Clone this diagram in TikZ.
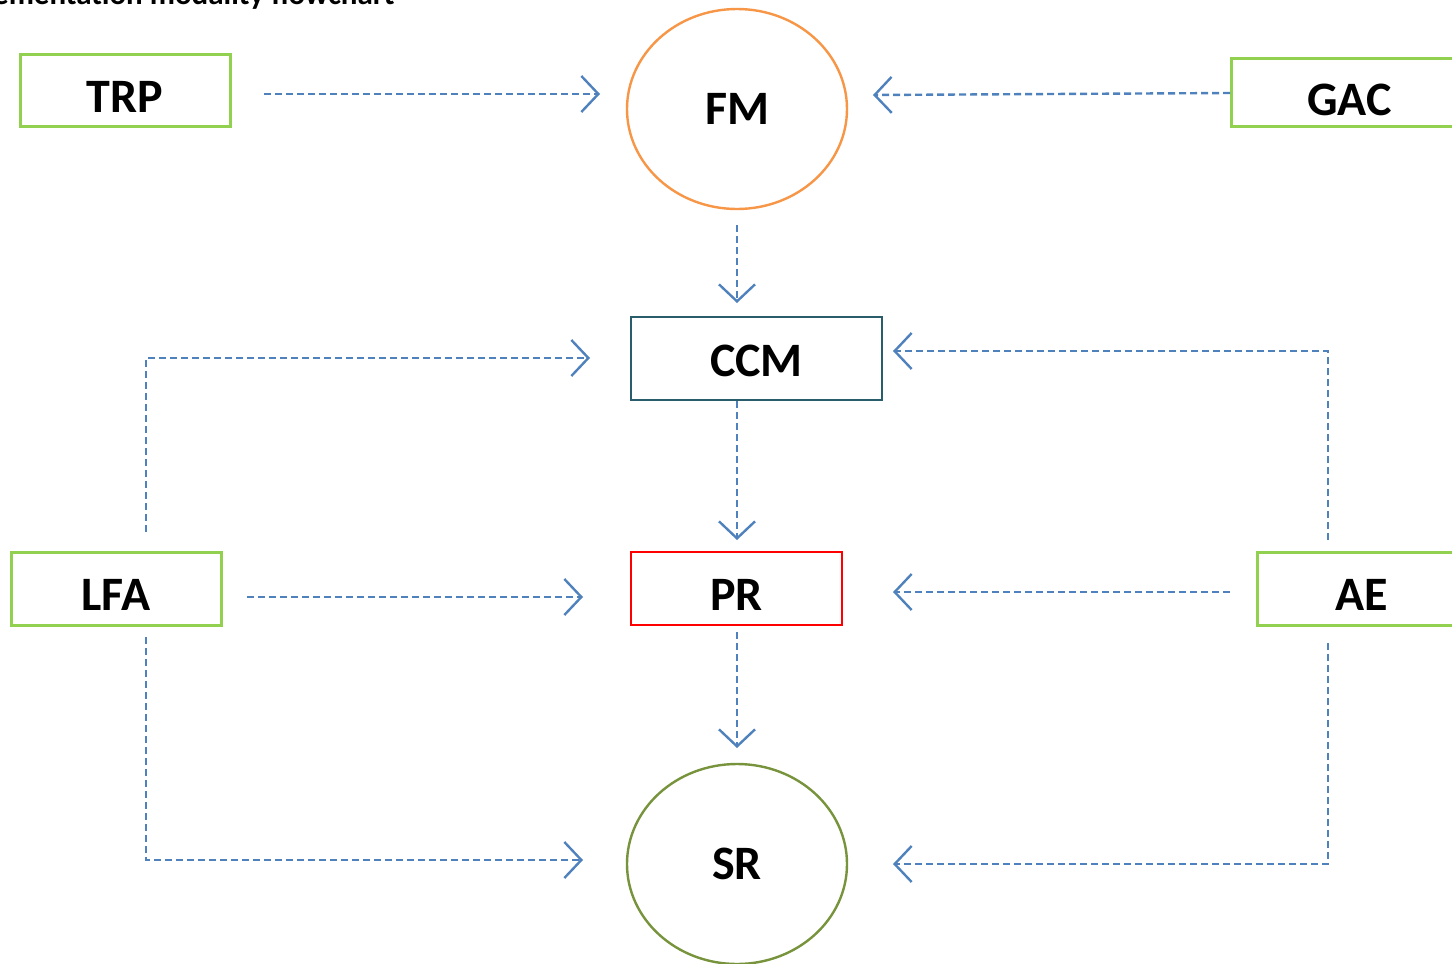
\documentclass[tikz,border=0pt]{standalone}
\usepackage{fontspec}
\setmainfont{Carlito}
\usetikzlibrary{arrows.meta,shapes.geometric}
\definecolor{bxgreen}{HTML}{92D050}
\definecolor{fmorange}{HTML}{F79646}
\definecolor{ccmteal}{HTML}{2A5D6C}
\definecolor{srolive}{HTML}{77933C}
\definecolor{arrblue}{HTML}{4F81BD}
\tikzset{
  lbl/.style={font=\fontsize{24}{29}\selectfont\bfseries, text=black},
  low/.style={text height=#1, text depth=0pt},
  gbox/.style={lbl, draw=bxgreen, line width=1.5pt, fill=white, rectangle, inner sep=0pt},
  cbox/.style={lbl, draw=ccmteal, line width=1.1pt, fill=white, rectangle, inner sep=0pt},
  rbox/.style={lbl, draw=red, line width=1.1pt, fill=white, rectangle, inner sep=0pt},
  ell/.style={lbl, ellipse, line width=1.2pt, fill=white, inner sep=0pt, minimum width=110pt, minimum height=100pt},
  conn/.style={draw=arrblue, line width=1.2pt, dash pattern=on 3.5pt off 2pt, -{Straight Barb[length=8.5pt,width=18pt,line width=1.2pt]}},
}
\begin{document}
\begin{tikzpicture}[x=0.5pt,y=-0.5pt]
\useasboundingbox (0,0) rectangle (1452,964);
\node[font=\fontsize{15.5}{18}\selectfont\bfseries, anchor=base east, inner sep=0pt] (title) at (395,4) {Implementation modality flowchart};
% nodes
\node[gbox, low=22pt, minimum width=105pt, minimum height=36pt] (trp) at (125,90) {TRP};
\node[gbox, low=23.5pt, minimum width=118pt, minimum height=34pt, anchor=west] (gac) at (1230,92) {GAC};
\node[ell, draw=fmorange] (fm) at (737,109) {FM};
\node[cbox, low=17.5pt, minimum width=125.5pt, minimum height=41.5pt] (ccm) at (756.5,358.5) {CCM};
\node[gbox, low=21.5pt, minimum width=105pt, minimum height=36.5pt] (lfa) at (116,588.5) {LFA};
\node[rbox, low=21.5pt, minimum width=105.5pt, minimum height=36.5pt] (pr) at (736.5,588.5) {PR};
\node[gbox, low=21.5pt, minimum width=104pt, minimum height=36.5pt, anchor=west] (ae) at (1256,588.5) {AE};
\node[ell, draw=srolive] (sr) at (737,864) {SR};
% connector end points
\coordinate (trpout) at (264,94);
\coordinate (fmin1) at (600,94);
\coordinate (gacout) at (1230,93);
\coordinate (fmin2) at (873,95);
\coordinate (fmout) at (737,225);
\coordinate (ccmin1) at (737,303);
\coordinate (lfaup) at (146,532);
\coordinate (lfacorner1) at (146,358);
\coordinate (ccmin2) at (590,358);
\coordinate (aeup) at (1328,540);
\coordinate (aecorner1) at (1328,351);
\coordinate (ccmin3) at (893,351);
\coordinate (ccmout) at (737,401);
\coordinate (prin1) at (737,540);
\coordinate (lfaright) at (247,597);
\coordinate (prin2) at (583,597);
\coordinate (aeleft) at (1230,592);
\coordinate (prin3) at (893,592);
\coordinate (prout) at (737,632);
\coordinate (srin1) at (737,748);
\coordinate (lfadown) at (146,637);
\coordinate (lfacorner2) at (146,860);
\coordinate (srin2) at (583,860);
\coordinate (aedown) at (1328,643);
\coordinate (aecorner2) at (1328,864);
\coordinate (srin3) at (893,864);
% connectors
\draw[conn] (trpout) -- (fmin1);
\draw[conn] (gacout) -- (fmin2);
\draw[conn] (fmout) -- (ccmin1);
\draw[conn] (lfaup) -- (lfacorner1) -- (ccmin2);
\draw[conn] (aeup) -- (aecorner1) -- (ccmin3);
\draw[conn] (ccmout) -- (prin1);
\draw[conn] (lfaright) -- (prin2);
\draw[conn] (aeleft) -- (prin3);
\draw[conn] (prout) -- (srin1);
\draw[conn] (lfadown) -- (lfacorner2) -- (srin2);
\draw[conn] (aedown) -- (aecorner2) -- (srin3);
\end{tikzpicture}
\end{document}
